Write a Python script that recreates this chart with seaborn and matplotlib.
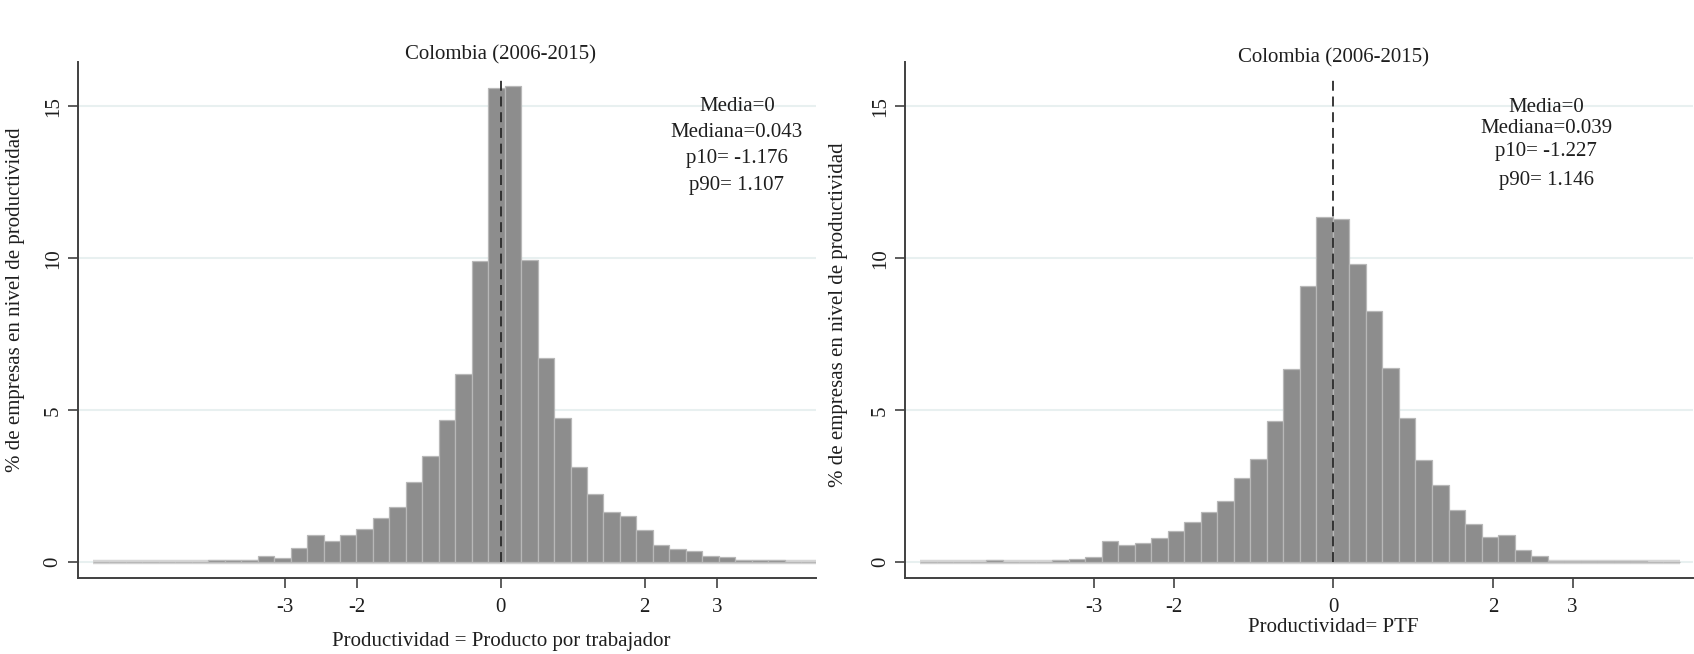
import numpy as np
import pandas as pd
import matplotlib
matplotlib.use("Agg")
import matplotlib.pyplot as plt
import matplotlib.transforms as mtransforms
import seaborn as sns

# ---------------- data ----------------
title_text = "Colombia (2006-2015)"
ylabel_text = "% de empresas en nivel de productividad"
xtick_values = [-3, -2, 0, 2, 3]
ytick_values = [0, 5, 10, 15]

left_start = -5.664
left_width = 0.2287
left_heights = [0, 0, 0, 0, 0, 0, 0, 0.06, 0.06, 0.06,
                0.21, 0.15, 0.48, 0.90, 0.71, 0.90, 1.11, 1.47, 1.83, 2.63,
                3.49, 4.69, 6.18, 9.91, 15.61, 15.68, 9.94, 6.71, 4.75, 3.14,
                2.24, 1.66, 1.52, 1.07, 0.57, 0.45, 0.36, 0.21, 0.16, 0.06,
                0.06, 0.06, 0, 0]
left_xlabel = "Productividad = Producto por trabajador"
left_stats = ["Media=0", "Mediana=0.043", "p10= -1.176", "p90= 1.107"]

right_start = -5.173
right_width = 0.2068
right_heights = [0, 0, 0, 0, 0.08, 0, 0, 0, 0.08, 0.12,
                 0.16, 0.71, 0.57, 0.64, 0.79, 1.02, 1.33, 1.64, 2.01, 2.77,
                 3.40, 4.65, 6.35, 9.09, 11.37, 11.29, 9.80, 8.28, 6.40, 4.75,
                 3.36, 2.54, 1.73, 1.26, 0.83, 0.89, 0.41, 0.21, 0.05, 0.05,
                 0.05, 0.05, 0.05, 0.05, 0, 0]
right_xlabel = "Productividad= PTF"
right_stats = ["Media=0", "Mediana=0.039", "p10= -1.227", "p90= 1.146"]

mean_value = 0

# ---------------- style ----------------
sns.set_theme(style="white")
plt.rcParams["font.family"] = ["Liberation Serif", "DejaVu Serif"]
TXT = "#1e1e1e"
BAR = "#8d8d8d"

W, H = 1694, 654
fig = plt.figure(figsize=(W / 100, H / 100), dpi=100)


def px_rect(x0, x1, ytop, ybot):
    return [x0 / W, (H - ybot) / H, (x1 - x0) / W, (ybot - ytop) / H]


def panel(rect, start, width, heights, xlim, xlabel, xlabel_y, stats, stat_x,
          stat_ys, title_y, ylabel_pos):
    ax = fig.add_axes(rect)
    n = len(heights)
    edges = [float(start + width * i) for i in range(n + 1)]
    centers = [(edges[i] + edges[i + 1]) / 2 for i in range(n)]
    df = pd.DataFrame({"x": centers, "w": heights})
    # light baseline over full data range
    ax.plot([edges[0], edges[-1]], [0, 0], color="#d6d6d6", lw=3.2,
            solid_capstyle="butt", zorder=1)
    sns.histplot(data=df, x="x", weights="w", bins=edges, ax=ax,
                 color=BAR, edgecolor="#b8b8b8", linewidth=0.9, alpha=1,
                 zorder=2)
    ax.vlines(mean_value, 0, 15.93, colors="#2a2a2a", lw=1.3,
              linestyles=(0, (5.5, 3.2)), zorder=3)
    ax.set_xlim(*xlim)
    ax.set_ylim(-0.526, 16.47)
    ax.set_xticks(xtick_values)
    ax.set_xticklabels([str(v) for v in xtick_values])
    ax.set_yticks(ytick_values)
    ax.set_yticklabels([str(v) for v in ytick_values])
    ax.yaxis.grid(True, color="#e8f0f0", lw=1.5)
    ax.xaxis.grid(False)
    ax.set_axisbelow(True)
    for s in ["top", "right"]:
        ax.spines[s].set_visible(False)
    for s in ["left", "bottom"]:
        ax.spines[s].set_color("#404040")
        ax.spines[s].set_linewidth(1.4)
    ax.tick_params(axis="both", which="major", direction="out", length=7,
                   width=1.3, color="#505050", labelsize=15, labelcolor=TXT,
                   bottom=True, left=True)
    ax.tick_params(axis="x", pad=7)
    ax.tick_params(axis="y", pad=4, labelrotation=90)
    for lab in ax.get_yticklabels():
        lab.set_va("center")
    ax.set_ylabel(ylabel_text, fontsize=15, color=TXT)
    ax.yaxis.set_label_coords(*ylabel_pos)
    blend = mtransforms.blended_transform_factory(ax.transData, ax.transAxes)
    ax.set_xlabel(xlabel, fontsize=15, color=TXT)
    ax.xaxis.set_label_coords(mean_value, xlabel_y, transform=blend)
    ax.text(mean_value, title_y, title_text, transform=blend, ha="center",
            va="center", fontsize=15, color=TXT)
    for s, yv in zip(stats, stat_ys):
        ax.text(stat_x, yv, s, ha="center", va="center", fontsize=15,
                color=TXT)
    ax.set_title("")
    return ax


# left panel: axes from x=78..816 px, y=61.7..578.3 px
panel(px_rect(78, 816, 61.7, 578.3), left_start, left_width, left_heights,
      (-5.872, 4.378), left_xlabel, -0.104, left_stats, 3.28,
      [14.98, 14.15, 13.30, 12.40], 1.014, (-0.072, 0.539))

# right panel
panel(px_rect(905.3, 1692.5, 61.7, 578.3), right_start, right_width,
      right_heights, (-5.362, 4.502), right_xlabel, -0.076, right_stats, 2.67,
      [14.95, 14.28, 13.50, 12.55], 1.008, (-0.073, 0.51))

fig.savefig("out.png", dpi=100, facecolor="white")
